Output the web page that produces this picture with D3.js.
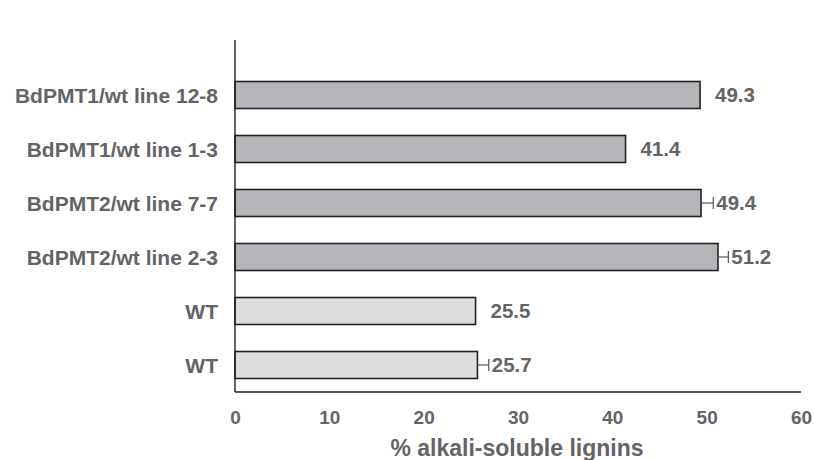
<!DOCTYPE html>
<html><head><meta charset="utf-8">
<script src="https://cdn.jsdelivr.net/npm/d3@7"></script>
<style>body{margin:0;background:#fff}</style>
</head><body><svg id="c" width="814" height="460"></svg>
<script>
const categories = ["BdPMT1/wt line 12-8","BdPMT1/wt line 1-3","BdPMT2/wt line 7-7","BdPMT2/wt line 2-3","WT","WT"];
const values = [49.3, 41.4, 49.4, 51.2, 25.5, 25.7];
const errors = [0, 0, 1.3, 1.1, 0, 1.2];
const groups = ["t","t","t","t","w","w"];
const xTicks = [0,10,20,30,40,50,60];

const svg = d3.select("#c");
const x = d3.scaleLinear().domain([0,60]).range([235,801]);
const y = d3.scaleBand().domain(d3.range(categories.length)).range([68,392]).paddingInner(0.5).paddingOuter(0.25);
const txt = "#636466";
const font = "'Liberation Sans', Arial, sans-serif";

// bars
svg.selectAll("rect.bar").data(values).join("rect")
  .attr("x", x(0)).attr("y",(d,i)=>y(i))
  .attr("width", d=>x(d)-x(0)).attr("height", y.bandwidth())
  .attr("fill",(d,i)=>groups[i]==="t"?"#b4b5b8":"#dcdddf")
  .attr("stroke","#222").attr("stroke-width",1.6);

// error bars
values.forEach((v,i)=>{
  if(errors[i]>0){
    const cy = y(i)+y.bandwidth()/2;
    svg.append("line").attr("x1",x(v)).attr("x2",x(v+errors[i])).attr("y1",cy).attr("y2",cy).attr("stroke","#555").attr("stroke-width",1.2);
    svg.append("line").attr("x1",x(v+errors[i])).attr("x2",x(v+errors[i])).attr("y1",cy-6).attr("y2",cy+6).attr("stroke","#555").attr("stroke-width",1.2);
  }
});

// value labels
svg.selectAll("text.val").data(values).join("text")
  .attr("x",(d,i)=>x(d+errors[i])+(errors[i]>0?3:15))
  .attr("y",(d,i)=>y(i)+y.bandwidth()/2)
  .attr("dy","0.36em")
  .attr("font-family",font).attr("font-weight","bold").attr("font-size",20.5).attr("fill",txt)
  .text(d=>d.toFixed(1));

// category labels
svg.selectAll("text.cat").data(categories).join("text")
  .attr("x",218).attr("y",(d,i)=>y(i)+y.bandwidth()/2).attr("dy","0.36em")
  .attr("text-anchor","end")
  .attr("font-family",font).attr("font-weight","bold").attr("font-size",21).attr("fill",txt)
  .text(d=>d);

// axes lines
svg.append("line").attr("x1",x(0)).attr("x2",x(0)).attr("y1",40).attr("y2",392).attr("stroke","#222").attr("stroke-width",1.4);
const xa = svg.append("g").attr("transform","translate(0,392)")
  .call(d3.axisBottom(x).tickValues(xTicks).tickSize(0).tickFormat(d3.format("d")));
xa.select(".domain").attr("stroke","#222").attr("stroke-width",1.4).attr("d",`M${x(0)},0H${x(60)}`);
xa.selectAll("text").attr("y",32).attr("dy",0).attr("font-family",font).attr("font-weight","bold").attr("font-size",19).attr("fill",txt);

svg.append("text").attr("x",517).attr("y",456).attr("text-anchor","middle")
  .attr("font-family",font).attr("font-weight","bold").attr("font-size",23).attr("fill",txt)
  .text("% alkali-soluble lignins");
</script></body></html>
